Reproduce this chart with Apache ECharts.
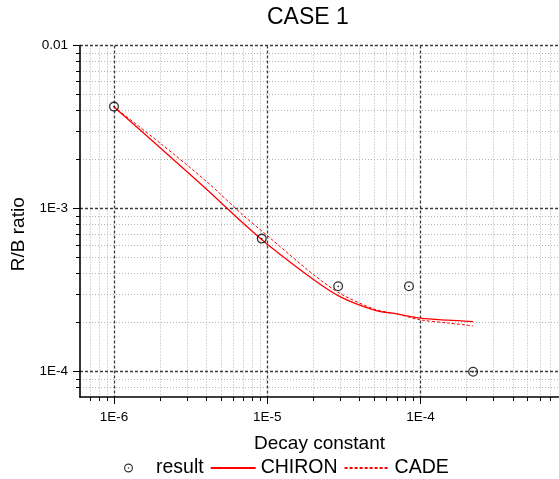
<!DOCTYPE html>
<html>
<head>
<meta charset="utf-8">
<title>CASE 1</title>
<script src="https://cdn.jsdelivr.net/npm/echarts@6.0.0/dist/echarts.min.js"></script>
<style>
  html, body { margin: 0; padding: 0; background: #fff; }
  #chart { width: 559px; height: 479px; }
</style>
</head>
<body>
<div id="chart"></div>
<script>
// values (log-log)
var resultX = [1e-6, 9.2e-6, 2.9e-5, 8.4e-5, 2.2e-4]
var resultY = [4.22e-3, 6.55e-4, 3.34e-4, 3.34e-4, 1.0e-4]

var curveX = [1e-6, 2e-6, 4e-6, 7e-6, 1e-5, 2e-5, 3e-5, 5e-5, 7e-5, 1e-4, 1.5e-4, 2.2e-4]
var chironY = [4.2e-3, 2.36e-3, 1.32e-3, 8.1e-4, 6.05e-4, 3.68e-4, 2.88e-4, 2.39e-4, 2.26e-4, 2.13e-4, 2.07e-4, 2.03e-4]
var cadeY = [4.2e-3, 2.52e-3, 1.47e-3, 9.06e-4, 6.83e-4, 3.94e-4, 3.01e-4, 2.42e-4, 2.26e-4, 2.08e-4, 1.99e-4, 1.91e-4]

var xMajor = [1e-6, 1e-5, 1e-4]
var xMajorLabels = ['1E-6', '1E-5', '1E-4']
var yMajor = [1e-4, 1e-3, 1e-2]
var yMajorLabels = ['1E-4', '1E-3', '0.01']

var X_MIN = 6e-7
var X_MAX = 8e-4
var Y_MIN = 7e-5
var Y_MAX = 0.01

var FONT = 'Liberation Sans, Arial, sans-serif'

// 2..9 x 10^n inside (lo, hi), for the dotted grid
function minorTicks (lo, hi) {
  var out = []
  for (var e = Math.floor(Math.log10(lo)); e <= Math.ceil(Math.log10(hi)); e++) {
    for (var m = 2; m <= 9; m++) {
      var v = m * Math.pow(10, e)
      if (v > lo * 1.0001 && v < hi * 0.9999) out.push(v)
    }
  }
  return out
}

function pairs (xs, ys) {
  return xs.map(function (x, i) { return [x, ys[i]] })
}

function labelOf (ticks, labels) {
  return function (v) {
    for (var i = 0; i < ticks.length; i++) {
      if (Math.abs(Math.log10(v / ticks[i])) < 1e-6) return labels[i]
    }
    return ''
  }
}

// ring with a dot in the middle (Origin style "circle dot")
var ringDot = 'path://M0,10A10,10 0 1,0 20,10A10,10 0 1,0 0,10Z' +
  'M2.6,10A7.4,7.4 0 1,1 17.4,10A7.4,7.4 0 1,1 2.6,10Z' +
  'M8.2,10A1.8,1.8 0 1,0 11.8,10A1.8,1.8 0 1,0 8.2,10Z'

function minorAxis (min, max, pos) {
  return {
    type: 'log',
    logBase: 10,
    min: min,
    max: max,
    position: pos,
    z: 0,
    axisLine: { show: false },
    axisTick: {
      show: true,
      inside: false,
      length: 4,
      customValues: minorTicks(min, max),
      lineStyle: { color: '#000', width: 1 }
    },
    axisLabel: { show: false },
    splitLine: {
      show: true,
      lineStyle: { color: '#b4b4b4', width: 1, type: [1, 2] }
    },
    axisPointer: { show: false }
  }
}

function majorAxis (min, max, pos, ticks, labels, name, gap, margin, namePad) {
  return {
    type: 'log',
    logBase: 10,
    min: min,
    max: max,
    position: pos,
    z: 1,
    name: name,
    nameLocation: 'middle',
    nameGap: gap,
    nameTextStyle: { fontFamily: FONT, fontSize: 19, color: '#000', padding: namePad },
    axisLine: { show: true, onZero: false, lineStyle: { color: '#000', width: 1.6 } },
    axisTick: {
      show: true,
      inside: false,
      length: 7,
      customValues: ticks,
      lineStyle: { color: '#000', width: 1 }
    },
    axisLabel: {
      show: true,
      customValues: ticks,
      margin: margin,
      fontFamily: FONT,
      fontSize: 13.5,
      color: '#000',
      formatter: labelOf(ticks, labels)
    },
    splitLine: {
      show: true,
      lineStyle: { color: '#3c3c3c', width: 1.3, type: [3, 2] }
    }
  }
}

var chart = echarts.init(document.getElementById('chart'))

chart.setOption({
  animation: false,
  backgroundColor: '#fff',
  title: {
    text: 'CASE 1',
    left: 267,
    top: 6,
    padding: 0,
    textStyle: { fontFamily: FONT, fontSize: 23, fontWeight: 'normal', color: '#000' }
  },
  legend: {
    left: 124,
    top: 458,
    padding: 0,
    itemWidth: 45,
    itemHeight: 9,
    itemGap: 6,
    textStyle: { fontFamily: FONT, fontSize: 19.5, color: '#000' },
    data: [
      { name: 'result' },
      // line items: no marker on the legend line
      { name: 'CHIRON', itemStyle: { opacity: 0 } },
      { name: 'CADE', itemStyle: { opacity: 0 } }
    ]
  },
  grid: {
    left: 80,
    right: 0,
    top: 45.5,
    bottom: 82,
    containLabel: false
  },
  xAxis: [
    minorAxis(X_MIN, X_MAX, 'bottom'),
    majorAxis(X_MIN, X_MAX, 'bottom', xMajor, xMajorLabels, 'Decay constant', 37, 13, 0)
  ],
  yAxis: [
    minorAxis(Y_MIN, Y_MAX, 'left'),
    majorAxis(Y_MIN, Y_MAX, 'left', yMajor, yMajorLabels, 'R/B ratio', 50, 12, [0, 26, 0, 0])
  ],
  series: [
    {
      name: 'result',
      type: 'scatter',
      xAxisIndex: 1,
      yAxisIndex: 1,
      symbol: ringDot,
      symbolSize: 10,
      itemStyle: { color: '#000' },
      data: pairs(resultX, resultY),
      z: 5
    },
    {
      name: 'CHIRON',
      type: 'line',
      xAxisIndex: 1,
      yAxisIndex: 1,
      symbol: 'none',
      smooth: 0.3,
      color: '#ff0000',
      lineStyle: { color: '#ff0000', width: 1.3, type: 'solid' },
      data: pairs(curveX, chironY)
    },
    {
      name: 'CADE',
      type: 'line',
      xAxisIndex: 1,
      yAxisIndex: 1,
      symbol: 'none',
      smooth: 0.3,
      color: '#ff0000',
      lineStyle: { color: '#ff0000', width: 1, type: [3, 2] },
      data: pairs(curveX, cadeY)
    }
  ]
})
</script>
</body>
</html>
